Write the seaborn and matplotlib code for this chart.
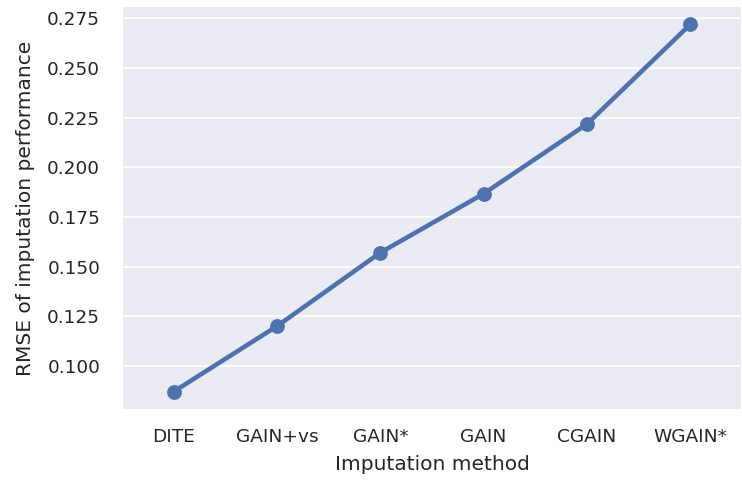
import matplotlib
matplotlib.use("Agg")
import matplotlib.pyplot as plt
import seaborn as sns
import pandas as pd

methods = ["DITE", "GAIN+vs", "GAIN*", "GAIN", "CGAIN", "WGAIN*"]
rmse = [0.087, 0.120, 0.157, 0.1867, 0.2218, 0.272]

sns.set_theme(style="darkgrid", rc={"xtick.major.pad": 4.6, "ytick.major.pad": 7})

df = pd.DataFrame({"Imputation method": methods,
                   "RMSE of imputation performance": rmse})

dpi = 121
fig, ax = plt.subplots(figsize=(742 / dpi, 480 / dpi), dpi=dpi)
sns.pointplot(data=df, x="Imputation method",
              y="RMSE of imputation performance", ax=ax)
ax.xaxis.labelpad = 5.5
ax.yaxis.labelpad = 7
fig.subplots_adjust(left=122 / 742, right=1.0, top=1 - 6 / 480, bottom=1 - 410 / 480)
fig.savefig("out.png", dpi=dpi)
